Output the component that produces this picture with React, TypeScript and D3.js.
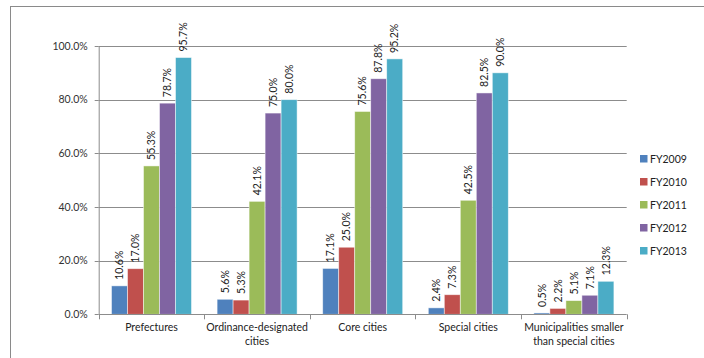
import React from "react";
import * as d3 from "d3";

const categories = [
  ["Prefectures"],
  ["Ordinance-designated", "cities"],
  ["Core cities"],
  ["Special cities"],
  ["Municipalities smaller", "than special cities"],
];
const series = ["FY2009", "FY2010", "FY2011", "FY2012", "FY2013"];
const colors = ["#4F81BD", "#C0504D", "#9BBB59", "#8064A2", "#4BACC6"];
const fy2009 = [10.6, 5.6, 17.1, 2.4, 0.5];
const fy2010 = [17.0, 5.3, 25.0, 7.3, 2.2];
const fy2011 = [55.3, 42.1, 75.6, 42.5, 5.1];
const fy2012 = [78.7, 75.0, 87.8, 82.5, 7.1];
const fy2013 = [95.7, 80.0, 95.2, 90.0, 12.3];
const values = [fy2009, fy2010, fy2011, fy2012, fy2013];
const yTicks = [0, 20, 40, 60, 80, 100];

const FONT = "Lato, 'Liberation Sans', sans-serif";

export default function App() {
  const W = 704, H = 358;
  const left = 98.7, right = 626.7, top = 46, bottom = 314.3;
  const y = d3.scaleLinear().domain([0, 100]).range([bottom, top]);
  const x0 = d3.scaleBand().domain(categories.map((_, i) => String(i))).range([left, right]).paddingInner(0).paddingOuter(0);
  const cw = x0.bandwidth();
  const barW = cw / 6.6;
  const groupOffset = (cw - barW * 5) / 2;

  return (
    <svg width={W} height={H} style={{ position: "absolute", left: 0, top: 0, background: "#fff" }}>
      <rect x={10.5} y={6.5} width={W + 10} height={H + 10} fill="#fff" stroke="#8a8a8a" strokeWidth={1} />
      {yTicks.map((t) => (
        <g key={t}>
          {t > 0 && <line x1={left} x2={right} y1={Math.round(y(t)) + 0.5} y2={Math.round(y(t)) + 0.5} stroke="#8c8c8c" strokeWidth={1} />}
          <line x1={left - 4} x2={left} y1={Math.round(y(t)) + 0.5} y2={Math.round(y(t)) + 0.5} stroke="#8c8c8c" />
          <text x={left - 11} y={y(t)} dy="0.35em" textAnchor="end" fontSize={10.5} fontFamily={FONT} fill="#333">
            {t.toFixed(1)}%
          </text>
        </g>
      ))}
      <line x1={left + 0.5} x2={left + 0.5} y1={top} y2={bottom} stroke="#8c8c8c" />
      {categories.map((c, ci) => {
        const cx = x0(String(ci))!;
        return (
          <g key={ci}>
            {values.map((vals, si) => {
              const v = vals[ci];
              const bx = cx + groupOffset + si * barW;
              return (
                <g key={si}>
                  <rect x={bx} y={y(v)} width={barW} height={bottom - y(v)} fill={colors[si]} stroke="#ffffff" strokeOpacity={0.6} strokeWidth={0.8} />
                  <text
                    transform={`translate(${bx + barW / 2},${y(v) - 6}) rotate(-90)`}
                    dy="0.35em"
                    textAnchor="start"
                    fontSize={10.5}
                    fontFamily={FONT}
                    fill="#222"
                  >
                    {v.toFixed(1)}%
                  </text>
                </g>
              );
            })}
            {c.map((line, li) => (
              <text key={li} x={cx + cw / 2} y={327.7 + li * 13.5} dy="0.35em" textAnchor="middle" fontSize={10.5} fontFamily={FONT} fill="#222">
                {line}
              </text>
            ))}
          </g>
        );
      })}
      <line x1={left} x2={right} y1={Math.round(bottom) + 0.5} y2={Math.round(bottom) + 0.5} stroke="#8c8c8c" />
      {d3.range(6).map((i) => (
        <line key={i} x1={Math.round(left + i * cw) + 0.5} x2={Math.round(left + i * cw) + 0.5} y1={bottom} y2={bottom + 5} stroke="#8c8c8c" />
      ))}
      {series.map((s, i) => (
        <g key={s} transform={`translate(640,${159 + i * 23})`}>
          <rect x={0} y={-4} width={7.5} height={7.5} fill={colors[i]} />
          <text x={10} y={0} dy="0.35em" fontSize={10.5} fontFamily={FONT} fill="#222">{s}</text>
        </g>
      ))}
    </svg>
  );
}
